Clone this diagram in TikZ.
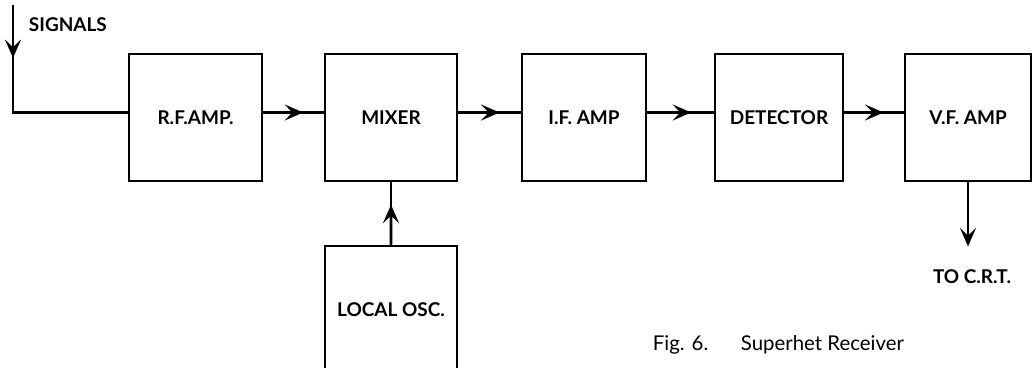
\documentclass[tikz,border=0pt]{standalone}
\usepackage{fontspec}
\setmainfont{Lato}
\usetikzlibrary{arrows.meta,calc,positioning}

\tikzset{
  blk/.style={draw, line width=2pt, minimum height=3.175cm,
    font=\bfseries\fontsize{13.5}{15}\selectfont},
  wire/.style={line width=2pt},
  tip/.style={line width=2pt, -{Stealth[length=4.6mm,width=4mm,inset=1.9mm]}},
  lbl/.style={font=\bfseries\fontsize{13.5}{15}\selectfont}
}

\begin{document}
\begin{tikzpicture}
    \clip (0,0) rectangle (25.875,-9.175);
    % the chain of stages
        \node[blk, minimum width=3.325cm] (rf) at (4.8875,-2.9375) {R.F.AMP.};
        \node[blk, minimum width=3.3cm] (mix) at (9.775,-2.9375) {MIXER};
        \node[blk, minimum width=3.1cm] (if) at (14.6,-2.9375) {I.F. AMP};
        \node[blk, minimum width=3.2cm] (det) at (19.475,-2.9375) {DETECTOR};
        \node[blk, minimum width=3.15cm] (vf) at (24.2,-2.9375) {V.F. AMP};
        \node[blk, minimum width=3.3cm] (osc) at (9.775,-7.7375) {LOCAL OSC.};
    % input and output ends
        \coordinate (sigtop) at (0.325,-0.125);
        \coordinate (sigtip) at (0.325,-1.45);
        \coordinate (crt) at ($(vf.south)+(0,-1.6)$);
    % Below nodes are the labels.
        \node[lbl, anchor=west] (sig) at (0.6,-0.625) {SIGNALS};
        \node[lbl] (out) at (24.3,-6.925) {TO C.R.T.};
        \node[anchor=west, font=\fontsize{14.5}{16}\selectfont] (cap) at (16.2,-8.625)
            {Fig. 6.\hspace{1.6em}Superhet Receiver};
    % This draws the connectors.
        \draw[wire] (sigtop) |- ([yshift=1.25mm]rf.west);
        \draw[tip] (sigtop) -- (sigtip);
        \foreach \a/\b in {rf/mix, mix/if, if/det, det/vf} {
            \draw[wire] ([yshift=1.25mm]\a.east) -- ([yshift=1.25mm]\b.west);
            \draw[tip] ([yshift=1.25mm]\a.east) -- ($([yshift=1.25mm]\a.east)!0.66!([yshift=1.25mm]\b.west)$);
        }
        \draw[wire] (osc.north) -- (mix.south);
        \draw[tip] (osc.north) -- ($(osc.north)!0.64!(mix.south)$);
        \draw[tip] (vf.south) -- (crt);
\end{tikzpicture}
\end{document}
